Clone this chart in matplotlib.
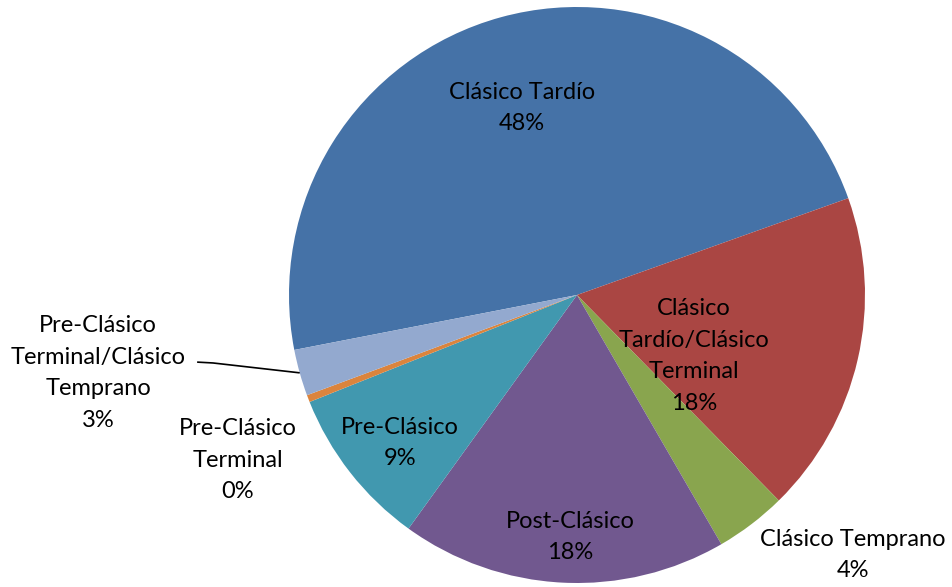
import numpy as np
import matplotlib
matplotlib.use("Agg")
import matplotlib.pyplot as plt

# periods and share of material (percent)
periods = [
    "Clásico Tardío",
    "Clásico\nTardío/Clásico\nTerminal",
    "Clásico Temprano",
    "Post-Clásico",
    "Pre-Clásico",
    "Pre-Clásico\nTerminal",
    "Pre-Clásico\nTerminal/Clásico\nTemprano",
]
shares = [47.6, 18.1, 4.0, 18.3, 9.0, 0.4, 2.6]
colors = ["#4572A7", "#AA4643", "#89A54E", "#71588F", "#4198AF", "#DB843D", "#93A9CF"]

# label placement in pie-radius units
label_pos = [
    (-0.191, 0.649),
    (0.406, -0.212),
    (0.958, -0.903),
    (-0.024, -0.840),
    (-0.615, -0.514),
    (-1.177, -0.573),
    (-1.663, -0.271),
]

plt.rcParams["font.family"] = ["Lato", "DejaVu Sans"]

W, H = 952, 587
cx, cy, R = 577, 295, 288
fig = plt.figure(figsize=(W / 100, H / 100), dpi=100)
ax = fig.add_axes([0, 0, 1, 1])

wedges, _ = ax.pie(shares, colors=colors, startangle=191, counterclock=False,
                   radius=1, center=(0, 0), frame=True,
                   wedgeprops=dict(linewidth=0))
ax.set_xlim(-cx / R, (W - cx) / R)
ax.set_ylim(-(H - cy) / R, cy / R)
ax.set_aspect("auto")
ax.axis("off")

total = sum(shares)
for name, val, (x, y) in zip(periods, shares, label_pos):
    ax.text(x, y, f"{name}\n{round(val / total * 100):.0f}%", ha="center", va="center",
            fontsize=17, linespacing=1.62, color="black")

# leader line for the small slice label
w = wedges[-1]
mid = np.deg2rad((w.theta1 + w.theta2) / 2)
ax.plot([-1.319, -1.264, np.cos(mid)], [-0.233, -0.236, np.sin(mid)],
        color="black", lw=1.2, solid_capstyle="butt")

fig.savefig("out.png", dpi=100)
